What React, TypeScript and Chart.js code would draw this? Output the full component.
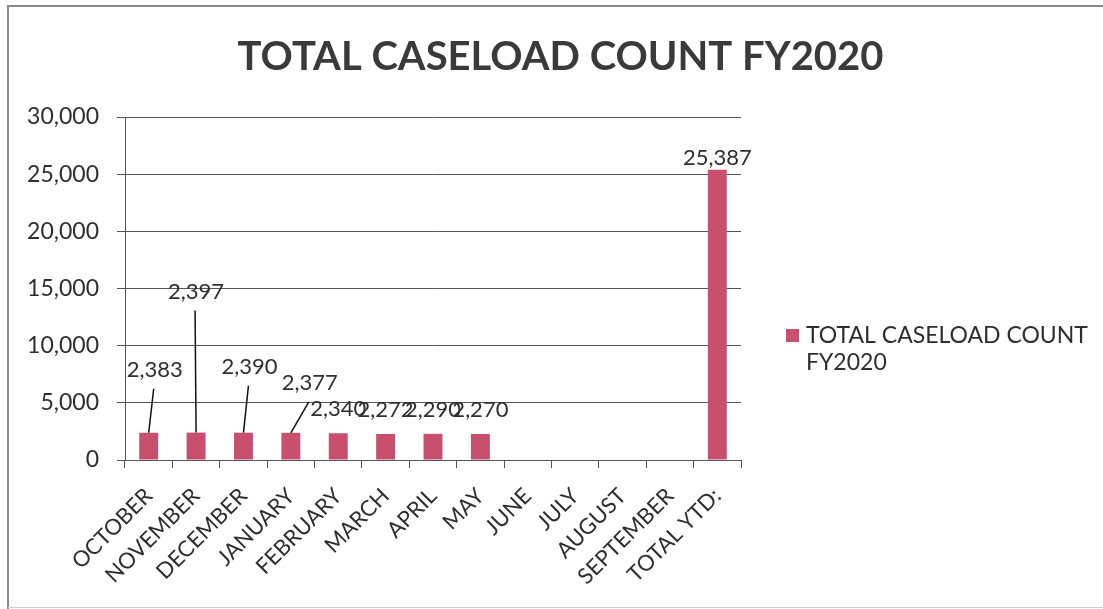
import React, { useEffect, useRef } from "react";
import { Chart, registerables } from "chart.js";

Chart.register(...registerables);

const TITLE = "TOTAL CASELOAD COUNT FY2020";
const SERIES_NAME = "TOTAL CASELOAD COUNT FY2020";
const LEGEND_LINES = ["TOTAL CASELOAD COUNT", "FY2020"];
const CATEGORIES = [
  "OCTOBER",
  "NOVEMBER",
  "DECEMBER",
  "JANUARY",
  "FEBRUARY",
  "MARCH",
  "APRIL",
  "MAY",
  "JUNE",
  "JULY",
  "AUGUST",
  "SEPTEMBER",
  "TOTAL YTD:",
];
const VALUES: (number | null)[] = [
  2383, 2397, 2390, 2377, 2340, 2272, 2290, 2270, null, null, null, null, 25387,
];
const Y_TICKS = [0, 5000, 10000, 15000, 20000, 25000, 30000];

// label placement (style only): [dx, dy, leader line]
const LABEL_OFFSETS: [number, number, boolean][] = [
  [6, -63, true],
  [0, -141, true],
  [6, -66, true],
  [19, -50, true],
  [0, -24, false],
  [0, -24, false],
  [0, -24, false],
  [0, -24, false],
  [0, -24, false],
  [0, -24, false],
  [0, -24, false],
  [0, -24, false],
  [0, -12, false],
];

const FONT = "Lato, 'Open Sans', sans-serif";
const TEXT = "#2e2e2e";
const BAR = "#C8506E";
const GRID = "#555555";

const fmt = (v: number) => v.toLocaleString("en-US");

const decorPlugin = {
  id: "decor",
  beforeDraw(chart: any) {
    const ctx = chart.ctx;
    ctx.save();
    ctx.fillStyle = "#ffffff";
    ctx.fillRect(0, 0, chart.width, chart.height);
    ctx.strokeStyle = "#8a8a8a";
    ctx.lineWidth = 2;
    ctx.beginPath();
    ctx.moveTo(8, chart.height);
    ctx.lineTo(8, 6);
    ctx.lineTo(chart.width, 6);
    ctx.stroke();
    ctx.strokeStyle = "#d0d0d0";
    ctx.lineWidth = 1;
    ctx.beginPath();
    ctx.moveTo(8, chart.height - 1.5);
    ctx.lineTo(chart.width, chart.height - 1.5);
    ctx.stroke();
    ctx.restore();
  },
  afterDraw(chart: any) {
    const ctx = chart.ctx;
    ctx.save();
    // title
    ctx.fillStyle = "#3a3a3a";
    ctx.font = `bold 40px ${FONT}`;
    ctx.textAlign = "center";
    ctx.textBaseline = "middle";
    ctx.fillText(TITLE, chart.width / 2 + 9, 57);

    // legend
    const lx = 786;
    const ly = 329;
    ctx.fillStyle = BAR;
    ctx.fillRect(lx, ly, 13, 13);
    ctx.fillStyle = TEXT;
    ctx.font = `23px ${FONT}`;
    ctx.textAlign = "left";
    ctx.textBaseline = "middle";
    LEGEND_LINES.forEach((line, i) => {
      ctx.fillText(line, lx + 20, ly + 7 + i * 27);
    });
    ctx.restore();
  },
  afterDatasetsDraw(chart: any) {
    const ctx = chart.ctx;
    const meta = chart.getDatasetMeta(0);
    ctx.save();
    ctx.font = `22px ${FONT}`;
    ctx.fillStyle = TEXT;
    ctx.textAlign = "center";
    ctx.textBaseline = "middle";
    meta.data.forEach((bar: any, i: number) => {
      const v = VALUES[i];
      if (v === null || v === undefined) return;
      const [dx, dy, leader] = LABEL_OFFSETS[i];
      const tx = bar.x + dx;
      const ty = bar.y + dy;
      if (leader) {
        ctx.strokeStyle = "#111111";
        ctx.lineWidth = 1.5;
        ctx.beginPath();
        ctx.moveTo(bar.x, bar.y);
        ctx.lineTo(tx - 1, ty + 19);
        ctx.stroke();
      }
      ctx.fillText(fmt(v), tx, ty);
    });
    ctx.restore();
  },
};

export default function App() {
  const ref = useRef<HTMLCanvasElement | null>(null);

  useEffect(() => {
    document.body.style.margin = "0";
    if (!ref.current) return;
    const chart = new Chart(ref.current, {
      type: "bar",
      data: {
        labels: CATEGORIES,
        datasets: [
          {
            label: SERIES_NAME,
            data: VALUES,
            backgroundColor: BAR,
            barPercentage: 0.4,
            categoryPercentage: 1,
          },
        ],
      },
      options: {
        responsive: false,
        animation: false,
        devicePixelRatio: 1,
        layout: { padding: { top: 117, right: 362, bottom: 0, left: 0 } },
        plugins: {
          legend: { display: false },
          title: { display: false },
          tooltip: { enabled: false },
        },
        scales: {
          x: {
            grid: {
              offset: true,
              drawOnChartArea: false,
              drawTicks: true,
              tickLength: 8,
              color: GRID,
            },
            border: { display: true, color: GRID, width: 1 },
            ticks: {
              maxRotation: 45,
              minRotation: 45,
              autoSkip: false,
              padding: 15,
              color: TEXT,
              font: { family: FONT, size: 22 },
            },
            afterFit: (scale: any) => {
              scale.height = 149;
            },
          },
          y: {
            min: 0,
            max: 30000,
            afterBuildTicks: (scale: any) => {
              scale.ticks = Y_TICKS.map((v) => ({ value: v }));
            },
            grid: {
              drawTicks: true,
              tickLength: 8,
              color: GRID,
            },
            border: { display: true, color: GRID, width: 1 },
            ticks: {
              padding: 18,
              color: TEXT,
              font: { family: FONT, size: 23 },
              callback: (v: any) => fmt(Number(v)),
            },
            afterFit: (scale: any) => {
              scale.width = 125;
            },
          },
        },
      },
      plugins: [decorPlugin],
    });
    return () => chart.destroy();
  }, []);

  return (
    <div style={{ width: 1103, height: 609 }}>
      <canvas ref={ref} width={1103} height={609} />
    </div>
  );
}
